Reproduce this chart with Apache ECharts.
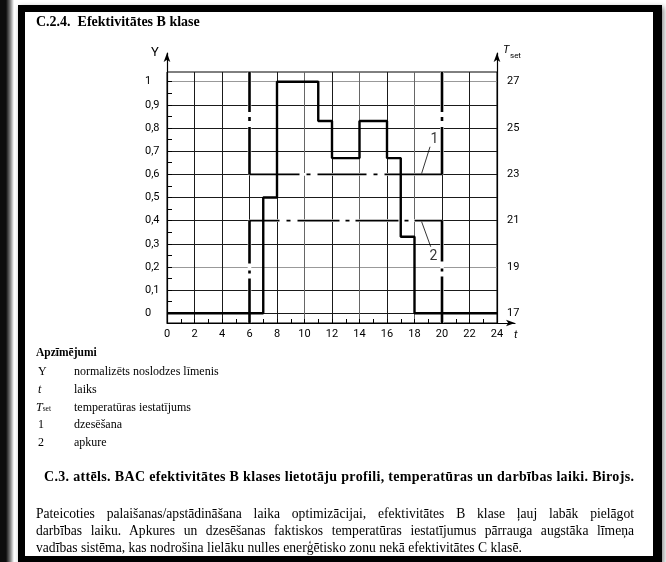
<!DOCTYPE html>
<html><head><meta charset="utf-8">
<script src="https://cdn.jsdelivr.net/npm/echarts@6/dist/echarts.min.js"></script>
<style>
html,body{margin:0;padding:0;width:666px;height:562px;overflow:hidden;background:#fff;}
#page{position:relative;width:666px;height:562px;background:#fff;}
#strip{position:absolute;left:0;top:0;width:14px;height:562px;background:linear-gradient(to right,#0d0d0d 0,#0d0d0d 6px,#777 10px,#fff 14px);}
#frame{position:absolute;left:18px;top:5px;width:628px;height:544px;border-style:solid;border-color:#000;border-width:7px 9px 7px 7px;box-shadow:2px 2px 5px rgba(0,0,0,0.45);background:#fff;}
#chart{position:absolute;left:0;top:0;width:666px;height:562px;z-index:2;}
.t{position:absolute;font-family:"Liberation Serif","DejaVu Serif",serif;color:#000;white-space:nowrap;z-index:3;}
.b{font-weight:bold;}
.j{text-align:justify;text-align-last:justify;width:598px;}
.lg{font-size:12px;line-height:13px;}
.p{font-size:13.6px;line-height:16px;}
</style></head>
<body><div id="page">
<div id="strip"></div>
<div id="frame"></div>
<div id="chart"></div>
<div class="t b" style="left:36px;top:14px;font-size:14px;line-height:16px;">C.2.4.&nbsp; Efektivitātes B klase</div>
<div class="t b" style="left:36px;top:346px;font-size:11.5px;line-height:13px;">Apzīmējumi</div>
<div class="t lg" style="left:38px;top:365px;">Y</div>
<div class="t lg" style="left:74px;top:365px;">normalizēts noslodzes līmenis</div>
<div class="t lg" style="left:38px;top:383px;font-style:italic;">t</div>
<div class="t lg" style="left:74px;top:383px;">laiks</div>
<div class="t lg" style="left:36px;top:401px;"><i>T</i><span style="font-size:7.5px;">set</span></div>
<div class="t lg" style="left:74px;top:401px;">temperatūras iestatījums</div>
<div class="t lg" style="left:38px;top:418px;">1</div>
<div class="t lg" style="left:74px;top:418px;">dzesēšana</div>
<div class="t lg" style="left:38px;top:436px;">2</div>
<div class="t lg" style="left:74px;top:436px;">apkure</div>
<div class="t b" style="left:44px;top:469px;font-size:14px;line-height:16px;letter-spacing:0.33px;">C.3. attēls. BAC efektivitātes B klases lietotāju profili, temperatūras un darbības laiki. Birojs.</div>
<div class="t j p" style="left:36px;top:506px;">Pateicoties palaišanas/apstādināšana laika optimizācijai, efektivitātes B klase ļauj labāk pielāgot</div>
<div class="t j p" style="left:36px;top:523px;">darbības laiku. Apkures un dzesēšanas faktiskos temperatūras iestatījumus pārrauga augstāka līmeņa</div>
<div class="t p" style="left:36px;top:540px;">vadības sistēma, kas nodrošina lielāku nulles enerģētisko zonu nekā efektivitātes C klasē.</div>
</div>
<script>
// ---- data ----
const hourLabels = ['0','2','4','6','8','10','12','14','16','18','20','22','24'];
const loadLabels = ['0','0,1','0,2','0,3','0,4','0,5','0,6','0,7','0,8','0,9','1'];
const tsetLabels = ['17','19','21','23','25','27'];
const profileHours = [0, 7, 8, 11, 12, 14, 16, 17, 18, 24];
const profileLoad  = [0, 0.5, 1, 0.83, 0.67, 0.83, 0.67, 0.33, 0, 0];
const occupiedStart = 6, occupiedEnd = 20;
const coolingSetpoint = 23;
const heatingSetpoint = 21;
const label1Leader = [[18.52, 23.04], [19.13, 24.19]];
const label1Pos = [19.45, 24.5];
const label2Leader = [[18.52, 20.95], [19.18, 19.87]];
const label2Pos = [19.38, 19.45];

// ---- scale extents of the framed box ----
const boxYMin = -0.0423, boxYMax = 1.0419;
const boxTMin = 17 + boxYMin * 10, boxTMax = 17 + boxYMax * 10;
const arrowYMax = (313.2 - 53) / 231.5;

const FONT = 'Roboto, "DejaVu Sans", sans-serif';
const black = '#000';
const vGridColors = hourLabels.map((h) => (h === '10' || h === '14' || h === '18') ? '#666' : '#1a1a1a');
const hGridColors = loadLabels.map((l) => (l === '0,2' || l === '1') ? '#999' : '#1a1a1a');

function seg(data, width, dash, color, z) {
  return {
    type: 'line', xAxisIndex: 1, yAxisIndex: 3, data: data, symbol: 'none', silent: true, clip: false,
    lineStyle: {color: color || black, width: width, type: dash || 'solid', cap: 'butt'}, z: z || 4, animation: false
  };
}
// a dash-dot set-point segment: white underlay (so breaks read as gaps) + black dashed stroke
function dashSeg(data, width, dash) {
  return [seg(data, width + 1, 'solid', '#fff', 3), seg(data, width, dash, black, 4)];
}

const chart = echarts.init(document.getElementById('chart'), null, {renderer: 'canvas'});
const option = {
  animation: false,
  textStyle: {fontFamily: FONT},
  grid: [
    {left: 167, top: 53, width: 348, height: 270, containLabel: false},
    {left: 167, top: 72, width: 330, height: 251, show: true, borderColor: '#000', borderWidth: 1, containLabel: false},
    {left: 167, top: 81.7, width: 330, height: 231.5, containLabel: false}
  ],
  xAxis: [
    {gridIndex: 0, type: 'value', min: 0, max: 348 / 13.75,
     axisLine: {show: true, onZero: false, symbol: ['none', 'arrow'], symbolSize: [5, 9], lineStyle: {color: black, width: 1.2}},
     axisTick: {show: false}, axisLabel: {show: false}, splitLine: {show: false}},
    {gridIndex: 1, type: 'value', min: 0, max: 24, interval: 2,
     axisLine: {show: false, onZero: false},
     axisTick: {show: true, inside: true, length: 4, lineStyle: {color: black}},
     minorTick: {show: true, splitNumber: 2, length: 4, lineStyle: {color: black}},
     axisLabel: {show: true, margin: 6, color: black, fontSize: 11, fontFamily: FONT, formatter: (v, i) => hourLabels[i]},
     splitLine: {show: true, lineStyle: {color: vGridColors, width: 1}}},
    {gridIndex: 2, type: 'value', min: 0, max: 24, show: false, axisLine: {onZero: false}}
  ],
  yAxis: [
    {gridIndex: 0, type: 'value', min: boxYMin, max: arrowYMax, position: 'left',
     axisLine: {show: true, onZero: false, symbol: ['none', 'arrow'], symbolSize: [5, 9], lineStyle: {color: black, width: 1.2}},
     axisTick: {show: false}, axisLabel: {show: false}, splitLine: {show: false}},
    {gridIndex: 0, type: 'value', min: boxYMin, max: arrowYMax, position: 'right', offset: -18,
     axisLine: {show: true, onZero: false, symbol: ['none', 'arrow'], symbolSize: [5, 9], lineStyle: {color: black, width: 1.2}},
     axisTick: {show: false}, axisLabel: {show: false}, splitLine: {show: false}},
    {gridIndex: 1, type: 'value', min: boxYMin, max: boxYMax, show: false, axisLine: {onZero: false}},
    {gridIndex: 1, type: 'value', min: boxTMin, max: boxTMax, show: false, axisLine: {onZero: false}},
    {gridIndex: 2, type: 'value', min: 0, max: 1, interval: 0.1, position: 'left',
     axisLine: {show: false, onZero: false},
     axisTick: {show: true, inside: true, length: 5, lineStyle: {color: black}},
     minorTick: {show: true, splitNumber: 2, length: 5, lineStyle: {color: black}},
     axisLabel: {show: true, align: 'left', margin: 22, color: black, fontSize: 11, fontFamily: FONT, formatter: (v, i) => loadLabels[i]},
     splitLine: {show: true, lineStyle: {color: hGridColors, width: 1}}},
    {gridIndex: 2, type: 'value', min: 17, max: 27, interval: 2, position: 'right',
     axisLine: {show: false, onZero: false}, axisTick: {show: false}, splitLine: {show: false},
     axisLabel: {show: true, align: 'left', margin: 10, color: black, fontSize: 11, fontFamily: FONT, formatter: (v, i) => tsetLabels[i]}}
  ],
  graphic: [
    {type: 'text', left: 151, top: 46, style: {text: 'Y', font: '13px ' + FONT, fill: black}},
    {type: 'text', left: 503, top: 45, style: {text: 'T', font: 'italic 11px ' + FONT, fill: black}},
    {type: 'text', left: 510, top: 52, style: {text: 'set', font: '8px ' + FONT, fill: black}},
    {type: 'text', left: 514, top: 330, style: {text: 't', font: 'italic 11px ' + FONT, fill: black}}
  ],
  series: [
    {type: 'line', xAxisIndex: 1, yAxisIndex: 2, step: 'end', symbol: 'none', silent: true, clip: false, z: 5,
     data: profileHours.map((h, i) => [h, profileLoad[i]]),
     lineStyle: {color: black, width: 2.4}},
    // cooling set point (1)
    ...dashSeg([[occupiedStart, boxTMax], [occupiedStart, coolingSetpoint]], 2.6, [40, 5, 4, 6, 400]),
    ...dashSeg([[occupiedStart, coolingSetpoint], [occupiedEnd, coolingSetpoint]], 1.7, [50, 7, 4, 7, 49, 7, 4, 7, 400]),
    ...dashSeg([[occupiedEnd, boxTMax], [occupiedEnd, coolingSetpoint]], 2.6, [40, 5, 4, 6, 400]),
    // heating set point (2)
    ...dashSeg([[occupiedStart, heatingSetpoint], [occupiedStart, boxTMin]], 2.6, [43, 7, 3, 5, 400]),
    ...dashSeg([[occupiedStart, heatingSetpoint], [occupiedEnd, heatingSetpoint]], 1.7, [30, 7, 4, 7, 42, 6, 4, 6, 43, 6, 4, 6, 400]),
    ...dashSeg([[occupiedEnd, heatingSetpoint], [occupiedEnd, boxTMin]], 2.6, [41, 7, 3, 5, 400]),
    // leaders
    seg(label1Leader, 0.8),
    seg(label2Leader, 0.8),
    {type: 'scatter', xAxisIndex: 1, yAxisIndex: 3, symbolSize: 0, silent: true, z: 6,
     data: [{value: label1Pos, name: '1'}, {value: label2Pos, name: '2'}],
     label: {show: true, position: 'inside', formatter: (p) => p.name, color: black, fontSize: 14, fontFamily: FONT}}
  ]
};
chart.setOption(option);
</script>
</body></html>
